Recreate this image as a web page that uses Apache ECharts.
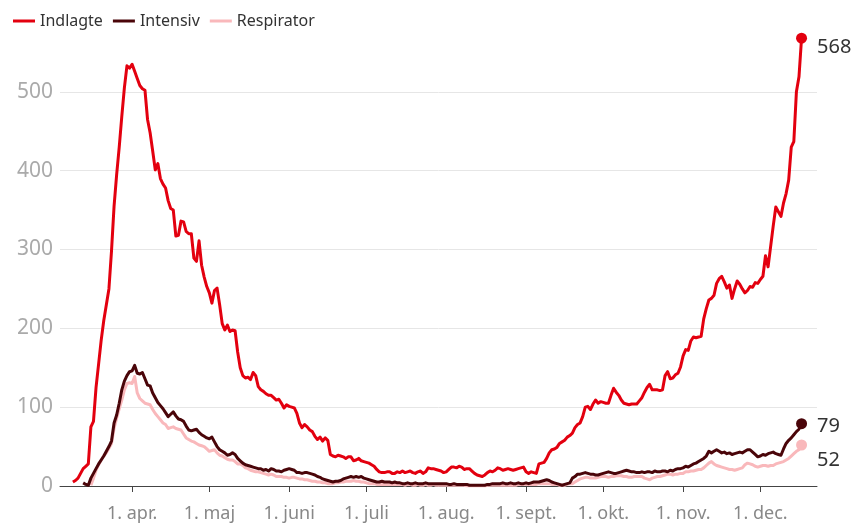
<!DOCTYPE html>
<html>
<head>
<meta charset="utf-8">
<script src="https://cdn.jsdelivr.net/npm/echarts@6/dist/echarts.min.js"></script>
<style>
  html, body { margin: 0; padding: 0; background: #fff; }
  #chart { width: 858px; height: 524px; }
</style>
</head>
<body>
<div id="chart"></div>
<script>
  // aksen: en kategori pr. dag, 4. marts - 23. dec. 2020
  const firstDay = '2020-03-04'
  const lastDay = '2020-12-23'
  const endDay = '2020-12-17' // sidste dag med tal
  const monthNames = ['jan.', 'feb.', 'mar.', 'apr.', 'maj', 'juni', 'juli', 'aug.', 'sept.', 'okt.', 'nov.', 'dec.']
  const yTicks = [0, 100, 200, 300, 400, 500]

  // Indlagte fra 9. marts
  const indlagte = [
    5, 7, 10, 16, 22, 25, 28, 75, 82, 125,
    155, 185, 210, 230, 250, 298, 355, 395, 430, 469,
    505, 533, 530, 535, 526, 517, 508, 504, 502, 465,
    448, 425, 401, 409, 390, 383, 378, 362, 352, 350,
    317, 318, 336, 335, 323, 320, 320, 289, 285, 311,
    280, 265, 253, 245, 232, 248, 251, 230, 206, 198,
    204, 196, 198, 197, 170, 150, 140, 137, 138, 135,
    144, 140, 126, 122, 120, 117, 115, 115, 112, 109,
    110, 105, 99, 103, 101, 100, 99, 92, 80, 74,
    78, 75, 71, 69, 63, 59, 62, 57, 61, 58,
    40, 38, 37, 39, 38, 37, 35, 37, 37, 32,
    33, 35, 32, 31, 30, 29, 27, 25, 21, 18,
    17, 17, 18, 18, 16, 16, 18, 17, 19, 17,
    18, 19, 17, 16, 18, 19, 16, 18, 23, 22,
    22, 21, 20, 19, 17, 18, 21, 24, 24, 23,
    25, 24, 21, 22, 22, 19, 16, 14, 13, 12,
    14, 17, 19, 18, 20, 23, 22, 20, 21, 22,
    21, 20, 21, 22, 23, 24, 18, 16, 18, 17,
    16, 28, 29, 30, 35, 42, 46, 47, 49, 54,
    56, 58, 62, 64, 67, 74, 78, 80, 88, 100,
    101, 97, 104, 109, 105, 107, 106, 105, 105, 115,
    124, 119, 115, 109, 105, 104, 103, 104, 104, 104,
    108, 112, 119, 125, 129, 122, 122, 122, 121, 122,
    140, 145, 136, 137, 141, 143, 151, 165, 173, 172,
    184, 189, 188, 189, 190, 212, 225, 236, 238, 242,
    257, 263, 266, 259, 251, 255, 238, 250, 260, 256,
    250, 245, 248, 253, 252, 258, 257, 262, 266, 292,
    278, 304, 330, 354, 348, 342, 359, 371, 388, 430,
    437, 500, 519, 568
  ]

  // Intensiv fra 13. marts
  const intensiv = [
    4, 2, 1, 10, 16, 22, 28, 33, 38, 44,
    50, 57, 80, 90, 105, 122, 133, 140, 145, 146,
    153, 143, 142, 144, 136, 128, 127, 118, 112, 106,
    102, 98, 93, 88, 91, 94, 89, 85, 84, 82,
    76, 71, 70, 71, 72, 68, 65, 63, 61, 60,
    62, 56, 50, 46, 44, 42, 39, 40, 42, 40,
    35, 32, 29, 27, 26, 25, 24, 23, 22, 22,
    20, 21, 19, 22, 21, 19, 19, 18, 20, 21,
    22, 21, 20, 17, 17, 16, 17, 17, 16, 15,
    14, 12, 11, 9, 8, 7, 6, 5, 6, 6,
    7, 9, 10, 11, 12, 11, 12, 11, 12, 10,
    9, 8, 7, 6, 5, 5, 6, 5, 5, 5,
    4, 5, 4, 4, 3, 3, 4, 3, 3, 4,
    3, 3, 3, 4, 3, 3, 3, 3, 3, 3,
    3, 3, 2, 2, 3, 2, 2, 2, 2, 2,
    1, 1, 1, 1, 1, 1, 1, 2, 2, 3,
    3, 3, 3, 4, 3, 3, 4, 3, 3, 4,
    3, 3, 4, 3, 4, 5, 5, 5, 6, 7,
    8, 7, 5, 4, 3, 2, 1, 2, 3, 4,
    10, 12, 15, 15, 16, 17, 16, 15, 15, 14,
    14, 15, 16, 17, 18, 17, 16, 16, 17, 18,
    19, 20, 19, 18, 18, 17, 17, 18, 17, 18,
    18, 17, 19, 18, 18, 19, 19, 18, 20, 19,
    21, 22, 22, 23, 25, 24, 26, 28, 29, 31,
    33, 35, 38, 44, 42, 44, 46, 44, 42, 43,
    41, 42, 40, 41, 42, 43, 42, 44, 46, 46,
    43, 40, 37, 38, 40, 39, 41, 42, 43, 41,
    40, 39, 47, 54, 58, 61, 65, 69, 72, 79
  ]

  // Respirator fra 16. marts
  const respirator = [
    1, 10, 20, 27, 33, 38, 42, 48, 54, 73,
    86, 98, 109, 122, 130, 131, 130, 139, 118, 111,
    108, 105, 104, 103, 97, 92, 88, 84, 80, 78,
    73, 74, 75, 73, 72, 71, 66, 61, 59, 57,
    56, 54, 52, 51, 50, 47, 44, 45, 46, 42,
    39, 38, 36, 34, 33, 33, 31, 28, 28, 26,
    23, 22, 20, 19, 18, 18, 17, 16, 15, 14,
    15, 14, 12, 12, 12, 11, 11, 10, 11, 11,
    10, 9, 9, 8, 8, 7, 6, 6, 5, 5,
    4, 4, 3, 3, 3, 4, 4, 5, 5, 6,
    6, 6, 7, 6, 6, 5, 5, 4, 3, 3,
    3, 2, 2, 2, 2, 2, 2, 2, 2, 2,
    2, 2, 1, 2, 2, 1, 1, 2, 1, 1,
    2, 1, 1, 2, 1, 1, 1, 1, 1, 1,
    1, 1, 1, 1, 1, 1, 0, 0, 0, 0,
    0, 0, 0, 0, 1, 1, 1, 1, 1, 1,
    1, 1, 1, 1, 1, 1, 2, 2, 2, 2,
    2, 2, 2, 2, 3, 3, 3, 3, 3, 2,
    2, 2, 1, 1, 1, 2, 3, 3, 5, 7,
    9, 10, 11, 11, 10, 10, 10, 11, 12, 12,
    12, 11, 12, 12, 13, 13, 13, 12, 12, 11,
    11, 12, 12, 12, 12, 10, 9, 8, 10, 11,
    12, 12, 13, 14, 15, 15, 14, 15, 15, 16,
    16, 18, 18, 19, 19, 20, 21, 21, 23, 26,
    29, 31, 28, 26, 25, 24, 23, 22, 21, 21,
    20, 21, 22, 23, 27, 29, 28, 27, 25, 24,
    25, 26, 26, 25, 26, 26, 28, 29, 30, 31,
    33, 35, 38, 41, 44, 46, 52
  ]

  const days = []
  for (let t = Date.parse(firstDay); t <= Date.parse(lastDay); t += 86400000) {
    days.push(new Date(t).toISOString().slice(0, 10))
  }
  const endIdx = days.indexOf(endDay)

  // læg tallene ind så sidste værdi lander på endDay
  function pad(arr) {
    const out = new Array(days.length).fill(null)
    const start = endIdx - arr.length + 1
    arr.forEach((v, i) => { out[start + i] = v })
    return out
  }

  const isFirst = (i, v) => v.slice(8) === '01'
  const font = 'Noto Sans'

  function lineSeries(name, arr, color, z, labelOffset) {
    const last = arr[arr.length - 1]
    return {
      name: name,
      type: 'line',
      data: pad(arr),
      z: z,
      symbol: 'none',
      color: color,
      lineStyle: { color: color, width: 3, join: 'round' },
      markPoint: {
        symbol: 'circle',
        symbolSize: 11,
        itemStyle: { color: color },
        label: {
          show: true,
          position: 'right',
          distance: 10,
          offset: labelOffset,
          color: '#333',
          fontFamily: font,
          fontSize: 20,
          formatter: String(last)
        },
        data: [{ coord: [endDay, last], value: last }]
      }
    }
  }

  const chart = echarts.init(document.getElementById('chart'))
  chart.setOption({
    animation: false,
    legend: {
      left: 8,
      top: 8,
      icon: 'rect',
      itemWidth: 22,
      itemHeight: 3,
      itemGap: 10,
      textStyle: { color: '#333', fontFamily: font, fontSize: 16 },
      data: ['Indlagte', 'Intensiv', 'Respirator']
    },
    grid: { left: 60, right: 41, top: 13, bottom: 38 },
    xAxis: {
      type: 'category',
      data: days,
      boundaryGap: false,
      axisLine: { lineStyle: { color: '#444', width: 1 } },
      axisTick: { show: true, interval: isFirst, length: 6, lineStyle: { color: '#444', width: 1 } },
      axisLabel: {
        interval: isFirst,
        margin: 19,
        color: '#888',
        fontFamily: font,
        fontSize: 18,
        formatter: (v) => '1. ' + monthNames[Number(v.slice(5, 7)) - 1]
      },
      splitLine: { show: false }
    },
    yAxis: {
      type: 'value',
      min: yTicks[0],
      max: 600,
      interval: 100,
      axisLine: { show: false },
      axisTick: { show: false },
      axisLabel: {
        showMaxLabel: false,
        margin: 7,
        color: '#aaa',
        fontFamily: font,
        fontSize: 21
      },
      splitLine: { showMaxLine: false, lineStyle: { color: '#e6e6e6', width: 1 } }
    },
    series: [
      lineSeries('Indlagte', indlagte, '#e3000f', 3, [0, 9]),
      lineSeries('Intensiv', intensiv, '#4a0509', 2, [0, 3]),
      lineSeries('Respirator', respirator, '#f9b8bb', 1, [0, 15])
    ]
  })
</script>
</body>
</html>
